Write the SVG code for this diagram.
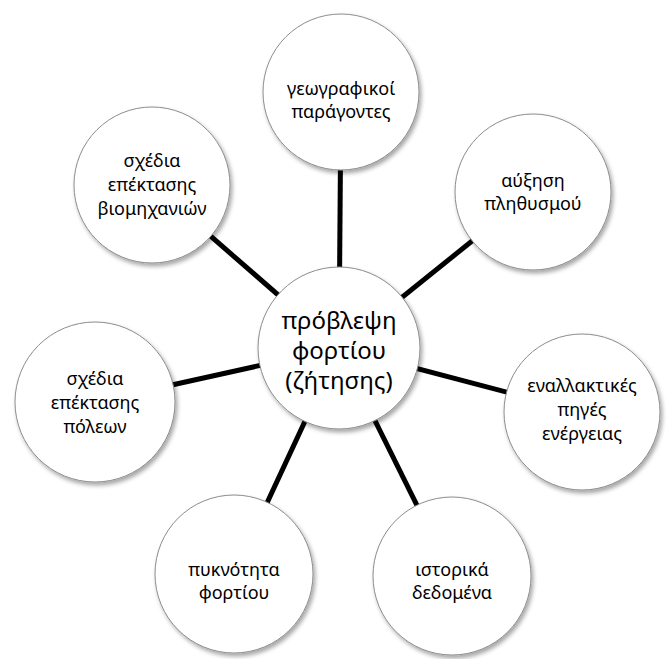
<svg xmlns="http://www.w3.org/2000/svg" width="667" height="659" viewBox="0 0 667 659">
  <defs>
    <filter id="shadow" x="-20%" y="-20%" width="140%" height="140%">
      <feDropShadow dx="2" dy="3" stdDeviation="2" flood-color="#000" flood-opacity="0.35"/>
    </filter>
    <style>
      .bubble { fill: #ffffff; stroke: #8c8c8c; stroke-width: 1; filter: url(#shadow); }
      .link { stroke: #000000; stroke-width: 5; }
      .label { font-family: "Noto Sans", "Open Sans", sans-serif; font-size: 18px; fill: #000000; text-anchor: middle; }
      .hub { font-size: 24px; }
    </style>
  </defs>
  <rect width="667" height="659" fill="#ffffff"/>

  <!-- spokes from the hub to each surrounding factor -->
  <g id="connectors">
    <line class="link" x1="339" y1="348" x2="341" y2="92"/>
    <line class="link" x1="339" y1="348" x2="533" y2="192"/>
    <line class="link" x1="339" y1="348" x2="582" y2="412"/>
    <line class="link" x1="339" y1="348" x2="452" y2="576"/>
    <line class="link" x1="339" y1="348" x2="234" y2="574"/>
    <line class="link" x1="339" y1="348" x2="95" y2="402"/>
    <line class="link" x1="339" y1="348" x2="152" y2="185"/>
  </g>

  <g id="hub">
    <circle class="bubble" cx="339" cy="348" r="81"/>
    <text class="label hub" x="339" y="329">πρόβλεψη</text>
    <text class="label hub" x="339" y="359">φορτίου</text>
    <text class="label hub" x="339" y="389">(ζήτησης)</text>
  </g>

  <g id="geographic">
    <circle class="bubble" cx="341" cy="92" r="78"/>
    <text class="label" x="341" y="95">γεωγραφικοί</text>
    <text class="label" x="341" y="118">παράγοντες</text>
  </g>

  <g id="population">
    <circle class="bubble" cx="533" cy="192" r="78"/>
    <text class="label" x="533" y="187">αύξηση</text>
    <text class="label" x="533" y="210">πληθυσμού</text>
  </g>

  <g id="alternative-energy">
    <circle class="bubble" cx="582" cy="412" r="78"/>
    <text class="label" x="582" y="392">εναλλακτικές</text>
    <text class="label" x="582" y="416">πηγές</text>
    <text class="label" x="582" y="440">ενέργειας</text>
  </g>

  <g id="historical-data">
    <circle class="bubble" cx="452" cy="576" r="79"/>
    <text class="label" x="452" y="576">ιστορικά</text>
    <text class="label" x="452" y="599">δεδομένα</text>
  </g>

  <g id="load-density">
    <circle class="bubble" cx="234" cy="574" r="79"/>
    <text class="label" x="234" y="576">πυκνότητα</text>
    <text class="label" x="234" y="599">φορτίου</text>
  </g>

  <g id="city-expansion">
    <circle class="bubble" cx="95" cy="402" r="80"/>
    <text class="label" x="95" y="385">σχέδια</text>
    <text class="label" x="95" y="409">επέκτασης</text>
    <text class="label" x="95" y="433">πόλεων</text>
  </g>

  <g id="industry-expansion">
    <circle class="bubble" cx="152" cy="185" r="78"/>
    <text class="label" x="152" y="167">σχέδια</text>
    <text class="label" x="152" y="191">επέκτασης</text>
    <text class="label" x="152" y="215">βιομηχανιών</text>
  </g>
</svg>
